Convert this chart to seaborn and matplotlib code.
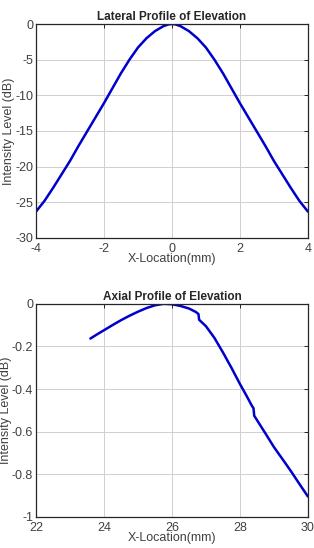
import numpy as np
import pandas as pd
import seaborn as sns
import matplotlib.pyplot as plt
from matplotlib.ticker import FormatStrFormatter

# lateral profile (symmetric about 0)
lat_half_x = [-4.0, -3.75, -3.5, -3.25, -3.0, -2.75, -2.5, -2.25, -2.0, -1.75,
              -1.5, -1.25, -1.0, -0.75, -0.5, -0.25, -0.1, 0.0]
lat_half_y = [-26.3, -24.8, -23.0, -21.1, -19.2, -17.1, -15.1, -13.1, -11.1, -9.0,
              -6.9, -5.0, -3.3, -2.0, -1.0, -0.3, -0.05, 0.0]
lat_x = lat_half_x + [-v for v in lat_half_x[-2::-1]]
lat_y = lat_half_y + lat_half_y[-2::-1]

# axial profile
ax_x = [23.6, 23.8, 24.0, 24.25, 24.5, 24.75, 25.0, 25.25, 25.5, 25.75, 26.0,
        26.25, 26.5, 26.7, 26.78, 26.8, 27.0, 27.25, 27.5, 27.75, 28.0, 28.2,
        28.35, 28.4, 28.42, 28.5, 28.75, 29.0, 29.25, 29.5, 29.75, 30.0]
ax_y = [-0.163, -0.143, -0.124, -0.100, -0.077, -0.056, -0.037, -0.020, -0.007, 0.0, -0.002,
        -0.010, -0.022, -0.038, -0.048, -0.075, -0.105, -0.160, -0.228, -0.300, -0.376, -0.433,
        -0.478, -0.490, -0.525, -0.545, -0.608, -0.672, -0.728, -0.785, -0.845, -0.904]

sns.set_style("white")
plt.rcParams['font.family'] = ['Liberation Sans', 'DejaVu Sans']
plt.rcParams['axes.unicode_minus'] = False

fig = plt.figure(figsize=(3.14, 5.48), dpi=100)
ax1 = fig.add_axes([0.1146, 0.5657, 0.866, 0.3905])
ax2 = fig.add_axes([0.1146, 0.0566, 0.866, 0.389])

lat_df = pd.DataFrame({'x': lat_x, 'y': lat_y})
axl_df = pd.DataFrame({'x': ax_x, 'y': ax_y})

sns.lineplot(data=lat_df, x='x', y='y', ax=ax1, color='#0000cc', linewidth=1.8,
             sort=False, estimator=None)
sns.lineplot(data=axl_df, x='x', y='y', ax=ax2, color='#0000cc', linewidth=1.8,
             sort=False, estimator=None)

ax1.set_xlim(-4, 4)
ax1.set_ylim(-30, 0)
ax1.set_xticks([-4, -2, 0, 2, 4])
ax1.set_yticks([-30, -25, -20, -15, -10, -5, 0])
ax1.set_title('Lateral Profile of Elevation', fontsize=8.5, fontweight='bold', pad=3)

ax2.set_xlim(22, 30)
ax2.set_ylim(-1, 0)
ax2.set_xticks([22, 24, 26, 28, 30])
ax2.set_yticks([-1, -0.8, -0.6, -0.4, -0.2, 0])
ax2.yaxis.set_major_formatter(FormatStrFormatter('%g'))
ax2.set_title('Axial Profile of Elevation', fontsize=8.5, fontweight='bold', pad=3)

for ax in (ax1, ax2):
    ax.set_xlabel('X-Location(mm)', fontsize=9, labelpad=-1, color='#404040')
    ax.set_ylabel('Intensity Level (dB)', fontsize=9, labelpad=0, color='#404040')
    ax.grid(True, color='#d0d0d0', linewidth=0.7)
    ax.tick_params(direction='in', length=3, width=0.7, labelsize=9,
                   top=True, right=True, pad=2, colors='#262626', labelcolor='#404040')
    ax.tick_params(axis='x', pad=3.5)
    for s in ax.spines.values():
        s.set_color('#262626')
        s.set_linewidth(0.9)

fig.savefig('out.png', dpi=100)
